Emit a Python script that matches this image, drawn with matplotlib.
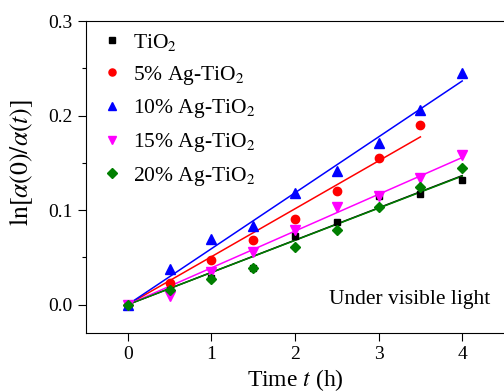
import numpy as np
from matplotlib import pyplot as plt
from matplotlib.ticker import MultipleLocator

plt.rcParams['font.family'] = ['Liberation Serif', 'DejaVu Serif']
plt.rcParams['mathtext.fontset'] = 'stix'

# time (h)
t = [0, 0.5, 1, 1.5, 2, 2.5, 3, 3.5, 4]

# ln[a(0)/a(t)] for each sample
tio2 = [0, 0.015, 0.028, 0.039, 0.073, 0.087, 0.115, 0.117, 0.132]
ag5 = [0, 0.023, 0.047, 0.068, 0.091, 0.120, 0.1556, 0.190]
ag10 = [0, 0.038, 0.069, 0.083, 0.118, 0.1415, 0.171, 0.206, 0.245]
ag15 = [0, 0.009, 0.035, 0.056, 0.0785, 0.103, 0.115, 0.134, 0.158]
ag20 = [0, 0.015, 0.0275, 0.039, 0.0605, 0.079, 0.103, 0.124, 0.1447]

labels = ['TiO$_2$', '5% Ag-TiO$_2$', '10% Ag-TiO$_2$', '15% Ag-TiO$_2$', '20% Ag-TiO$_2$']
series = [tio2, ag5, ag10, ag15, ag20]
colors = ['black', 'red', 'blue', 'magenta', '#007F00']
markers = ['s', 'o', '^', 'v', 'D']
msizes = [5, 6, 7, 7, 5.5]


def fit_origin(x, y):
    # least squares slope for a line through the origin
    x = np.asarray(x)
    y = np.asarray(y)
    return np.sum(x * y) / np.sum(x * x)


fig = plt.figure(figsize=(5.04, 3.92), dpi=100)
ax = fig.add_axes([0.1706, 0.1505, 0.8294, 0.7959])

# fit lines first, markers on top
for ys, c in zip(series, colors):
    tt = np.asarray(t[:len(ys)])
    k = fit_origin(tt, ys)
    ax.plot([0, tt[-1]], [0, k * tt[-1]], color=c, lw=1.1, zorder=2)

for ys, lab, c, m, ms in zip(series, labels, colors, markers, msizes):
    ax.plot(t[:len(ys)], ys, ls='none', marker=m, color=c, ms=ms, label=lab, zorder=3)

ax.set_xlim(-0.5, 4.5)
ax.set_ylim(-0.03, 0.3)
ax.set_xticks([0, 1, 2, 3, 4])
ax.set_yticks([0.0, 0.1, 0.2, 0.3])
ax.set_yticklabels(['0.0', '0.1', '0.2', '0.3'])
ax.yaxis.set_minor_locator(MultipleLocator(0.05))

ax.spines['right'].set_visible(False)
for s in ['top', 'left', 'bottom']:
    ax.spines[s].set_linewidth(0.8)
ax.tick_params(axis='both', which='major', direction='out', length=6, width=0.8, labelsize=14)
ax.tick_params(axis='y', which='minor', direction='out', length=3, width=0.8)

ax.set_xlabel('Time $t$ (h)', fontsize=17, labelpad=3)
ax.set_ylabel(r'$\mathrm{ln}[\alpha(0)/\alpha(t)]$', fontsize=18.5)
ax.yaxis.set_label_coords(-0.122, 0.545)

ax.text(4.33, 0.005, 'Under visible light', fontsize=15.5, ha='right', va='center')

ax.legend(loc='upper left', frameon=False, fontsize=15.5, handletextpad=0.28,
          labelspacing=0.5, borderaxespad=0.3, handlelength=1.4,
          borderpad=0.2, markerscale=0.85)

plt.savefig('out.png', dpi=100)
